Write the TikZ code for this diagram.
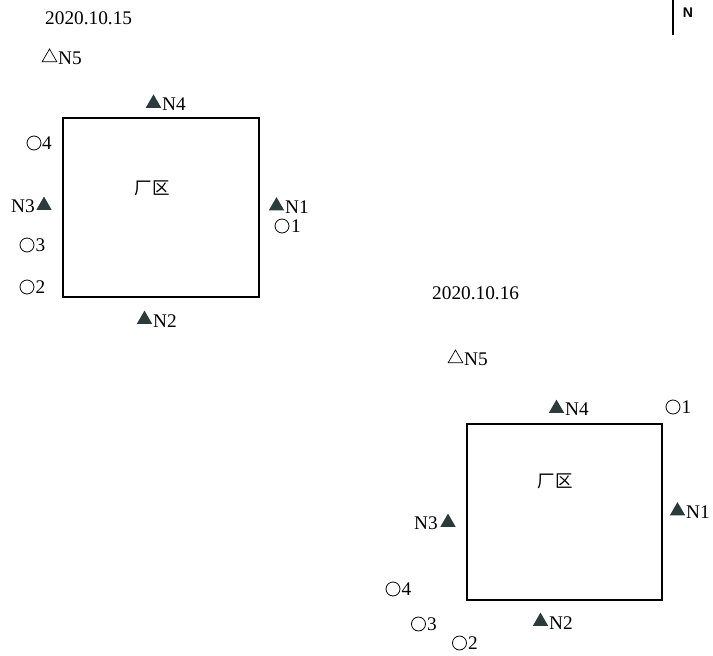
\documentclass[tikz,border=0pt]{standalone}
\usepackage{fontspec}
\setmainfont{Liberation Serif}
\newfontfamily\cjkfont{Noto Sans CJK SC}
\newfontfamily\sansN{Liberation Sans}
\usetikzlibrary{shapes.geometric}
\definecolor{tridark}{HTML}{2B3A3A}
\tikzset{
  lbl/.style={font=\fontsize{19.3}{21}\selectfont, inner sep=0pt, anchor=west},
  lble/.style={lbl, anchor=east},
  ftri/.style={regular polygon, regular polygon sides=3, minimum size=17.8pt, inner sep=0pt, fill=tridark, draw=none, yshift=-1.5pt},
  otri/.style={regular polygon, regular polygon sides=3, minimum size=17pt, inner sep=0pt, draw=black, line width=0.7pt, yshift=-1.5pt},
  circ/.style={circle, draw=black, line width=0.8pt, minimum size=14pt, inner sep=0pt},
  site/.style={draw=black, line width=1.3pt},
  cjk/.style={font=\cjkfont\fontsize{17.5}{19}\selectfont, inner sep=0pt}
}
\begin{document}
\begin{tikzpicture}[x=1pt, y=-1pt]
\useasboundingbox[fill=white] (0,0) rectangle (713,656);

% North marker
\coordinate (ntop) at (673,0);
\coordinate (nbot) at (673,35);
\draw[line width=1.3pt] (ntop) -- (nbot);
\node[font=\sansN\bfseries\fontsize{14}{16}\selectfont, inner sep=0pt] (north) at (688,13) {N};

% ===== Left diagram: 2020.10.15 =====
\node[lbl] (dateA) at (45,18) {2020.10.15};
\node[otri] (An5s) at (49.5,56) {};
\node[lbl] (An5) at (58,58) {N5};
\node[ftri] (An4s) at (153.5,101.8) {};
\node[lbl] (An4) at (162,104) {N4};
\node[site, minimum width=196pt, minimum height=179pt, inner sep=0pt] (siteA) at (161,207.5) {};
\node[cjk] (areaA) at (152,188) {厂区};
\node[circ] (Ao4s) at (34,143) {};
\node[lbl] (Ao4) at (42,143) {4};
\node[ftri] (An3s) at (44,204) {};
\node[lble] (An3) at (35,206) {N3};
\node[ftri] (An1s) at (276.5,204.5) {};
\node[lbl] (An1) at (285,207) {N1};
\node[circ] (Ao1s) at (282,226) {};
\node[lbl] (Ao1) at (291,226) {1};
\node[circ] (Ao3s) at (27,245) {};
\node[lbl] (Ao3) at (35.5,245) {3};
\node[circ] (Ao2s) at (27,287) {};
\node[lbl] (Ao2) at (35.5,287) {2};
\node[ftri] (An2s) at (144.5,318) {};
\node[lbl] (An2) at (153,321) {N2};

% ===== Right diagram: 2020.10.16 =====
\node[lbl] (dateB) at (432,293) {2020.10.16};
\node[otri] (Bn5s) at (455.5,357) {};
\node[lbl] (Bn5) at (464,359) {N5};
\node[ftri] (Bn4s) at (556.5,407) {};
\node[lbl] (Bn4) at (565,409) {N4};
\node[circ] (Bo1s) at (673,407) {};
\node[lbl] (Bo1) at (681.5,407) {1};
\node[site, minimum width=195pt, minimum height=176pt, inner sep=0pt] (siteB) at (564.5,512) {};
\node[cjk] (areaB) at (555,481) {厂区};
\node[ftri] (Bn3s) at (448,521) {};
\node[lble] (Bn3) at (438,523) {N3};
\node[ftri] (Bn1s) at (677.5,509.5) {};
\node[lbl] (Bn1) at (686,512) {N1};
\node[circ] (Bo4s) at (393,589) {};
\node[lbl] (Bo4) at (401.5,589) {4};
\node[circ] (Bo3s) at (418.5,624) {};
\node[lbl] (Bo3) at (427,624) {3};
\node[ftri] (Bn2s) at (540.5,620) {};
\node[lbl] (Bn2) at (549,623) {N2};
\node[circ] (Bo2s) at (459.5,643) {};
\node[lbl] (Bo2) at (468,643) {2};
\end{tikzpicture}
\end{document}
